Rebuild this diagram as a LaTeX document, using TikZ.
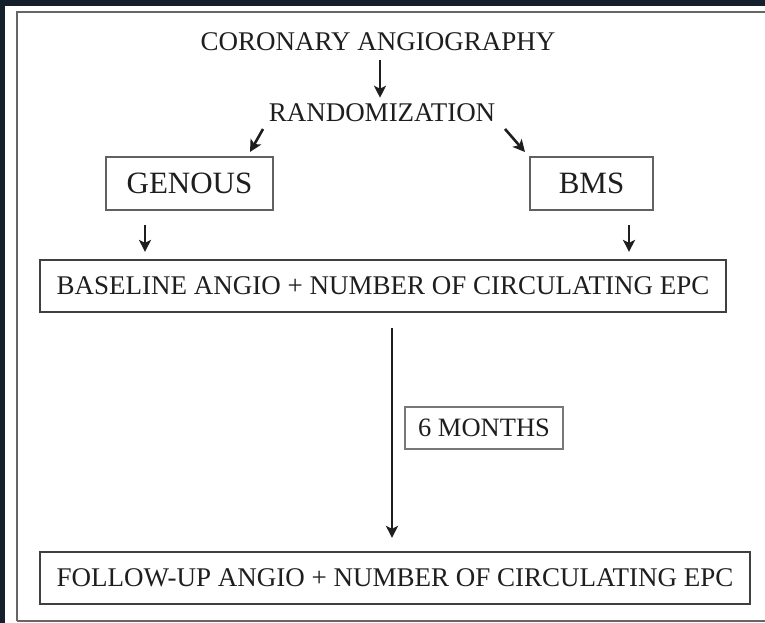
\documentclass[tikz,border=0pt]{standalone}
\usepackage{fontspec}
\setmainfont{Liberation Serif}
\usetikzlibrary{arrows.meta}
\definecolor{frameDark}{HTML}{16202D}
\definecolor{ink}{HTML}{1E1E1E}
\begin{document}
\begin{tikzpicture}[x=1pt,y=-1pt,
  lbl/.style={inner sep=0pt, text=ink, font=\fontsize{27}{30}\selectfont},
  bigbox/.style={draw=ink!85, line width=2.2pt, inner sep=0pt, text=ink, font=\fontsize{27}{30}\selectfont},
  armbox/.style={draw=ink!70, line width=1.7pt, inner sep=0pt, text=ink, font=\fontsize{31}{34}\selectfont},
  smallbox/.style={draw=ink!60, line width=1.6pt, inner sep=0pt, text=ink, font=\fontsize{26.5}{29}\selectfont},
  arr/.style={draw=ink, line width=2.6pt, -{Stealth[length=12pt,width=12pt,inset=3pt]}}
]
\useasboundingbox (0,0) rectangle (765,623);
\fill[frameDark] (0,0) rectangle (765,623);
\fill[white] (5,6) rectangle (765,623);
\draw[gray!80!black, line width=1.6pt] (17,621) -- (17,12) -- (765,12);
\draw[gray!80!black, line width=1.4pt] (17,621) -- (765,621);

\node[lbl] (cor) at (378,42) {CORONARY ANGIOGRAPHY};
\node[lbl] (rand) at (382,113) {RANDOMIZATION};
\node[armbox, minimum width=167pt, minimum height=53pt] (gen) at (189.5,183.5) {GENOUS};
\node[armbox, minimum width=123pt, minimum height=53pt] (bms) at (591.5,183.5) {BMS};
\node[bigbox, minimum width=686pt, minimum height=52pt] (base) at (383,286) {BASELINE ANGIO + NUMBER OF CIRCULATING EPC};
\node[smallbox, minimum width=158pt, minimum height=42pt] (six) at (484,428) {6 MONTHS};
\node[bigbox, minimum width=710pt, minimum height=52pt] (fol) at (395,578) {FOLLOW-UP ANGIO + NUMBER OF CIRCULATING EPC};

\coordinate (xc) at (380,0);
\coordinate (xg) at (145,0);
\coordinate (xb) at (629,0);
\coordinate (xl) at (392,0);
\coordinate (rl1) at (263,129);
\coordinate (rl2) at (250,152);
\coordinate (rr1) at (505,129);
\coordinate (rr2) at (525,152);

\draw[arr, shorten <=9pt, shorten >=6pt] (cor.south -| xc) -- (rand.north -| xc);
\draw[arr] (rl1) -- (rl2);
\draw[arr] (rr1) -- (rr2);
\draw[arr, shorten <=14pt, shorten >=7pt] (gen.south -| xg) -- (base.north -| xg);
\draw[arr, shorten <=14pt, shorten >=7pt] (bms.south -| xb) -- (base.north -| xb);
\draw[arr, shorten <=15pt, shorten >=13pt] (base.south -| xl) -- (fol.north -| xl);
\end{tikzpicture}
\end{document}
